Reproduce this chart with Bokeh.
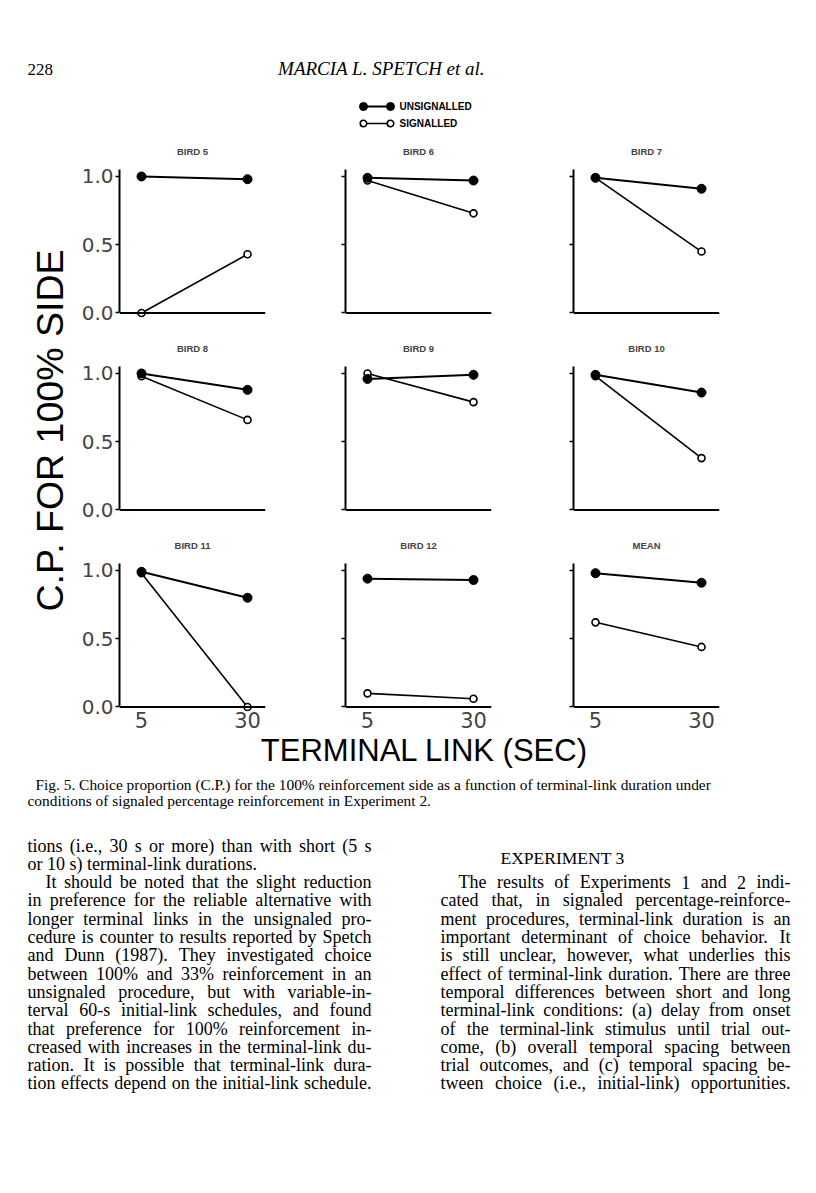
import math
from bokeh.plotting import figure
from bokeh.layouts import column, row
from bokeh.models import (Range1d, FixedTicker, Span, ColumnDataSource, NumeralTickFormatter,
                          CustomJSTickFormatter)
from bokeh.embed import file_html
from bokeh.resources import INLINE
from bokeh.core.properties import value

# ---------------- data ----------------
titles = ["BIRD 5", "BIRD 6", "BIRD 7", "BIRD 8", "BIRD 9", "BIRD 10", "BIRD 11", "BIRD 12", "MEAN"]
durations = [5, 30]
unsig_5 = [1.00, 0.99, 0.99, 1.00, 0.96, 0.99, 0.99, 0.94, 0.98]
unsig_30 = [0.98, 0.97, 0.91, 0.88, 0.99, 0.86, 0.80, 0.93, 0.91]
sig_5 = [0.00, 0.97, 0.99, 0.98, 1.00, 0.98, 0.98, 0.10, 0.62]
sig_30 = [0.43, 0.73, 0.45, 0.66, 0.79, 0.38, 0.00, 0.06, 0.44]
y_ticks = [0.0, 0.5, 1.0]
legend_labels = ["UNSIGNALLED", "SIGNALLED"]
y_title = "C.P. FOR 100% SIDE"
x_title = "TERMINAL LINK (SEC)"

page_number = "228"
running_head = "MARCIA L. SPETCH et al."
caption_lines = [
    "Fig. 5.   Choice proportion (C.P.) for the 100% reinforcement side as a function of terminal-link duration under",
    "conditions of signaled percentage reinforcement in Experiment 2.",
]
left_col_lines = [
    "tions (i.e., 30 s or more) than with short (5 s",
    "or 10 s) terminal-link durations.",
    "It should be noted that the slight reduction",
    "in preference for the reliable alternative with",
    "longer terminal links in the unsignaled pro-",
    "cedure is counter to results reported by Spetch",
    "and Dunn (1987). They investigated choice",
    "between 100% and 33% reinforcement in an",
    "unsignaled procedure, but with variable-in-",
    "terval 60-s initial-link schedules, and found",
    "that preference for 100% reinforcement in-",
    "creased with increases in the terminal-link du-",
    "ration. It is possible that terminal-link dura-",
    "tion effects depend on the initial-link schedule.",
]
left_indent = [0, 0, 1, 0, 0, 0, 0, 0, 0, 0, 0, 0, 0, 0]
left_para_end = [0, 1, 0, 0, 0, 0, 0, 0, 0, 0, 0, 0, 0, 0]
section_head = "EXPERIMENT 3"
right_col_lines = [
    "The results of Experiments 1 and 2 indi-",
    "cated that, in signaled percentage-reinforce-",
    "ment procedures, terminal-link duration is an",
    "important determinant of choice behavior. It",
    "is still unclear, however, what underlies this",
    "effect of terminal-link duration. There are three",
    "temporal differences between short and long",
    "terminal-link conditions: (a) delay from onset",
    "of the terminal-link stimulus until trial out-",
    "come, (b) overall temporal spacing between",
    "trial outcomes, and (c) temporal spacing be-",
    "tween choice (i.e., initial-link) opportunities.",
]
right_indent = [1] + [0] * 11
right_para_end = [0] * 12

# ---------------- layout constants ----------------
SANS = "Liberation Sans"
SERIF = "Liberation Serif"
PAGE_W, PAGE_H = 816, 1192
FRAME_W, FRAME_H, TOP_B = 146, 148, 38
LEFT_B = [41, 39, 40]
RIGHT_B = [41, 42, 41]
BOTTOM_B = [11, 11, 20]
HEADER_H = 131
YLAB_W = 78
BODY_PX = 18.0

# Times/Liberation Serif advance widths (1/1000 em), used only to justify body lines
_TW = {' ': 250, '!': 333, '%': 833, '(': 333, ')': 333, ',': 250, '-': 333, '.': 250, '/': 278,
       ':': 278, ';': 278, '?': 444}
_TW.update({d: 500 for d in "0123456789"})
_TW.update(dict(zip("ABCDEFGHIJKLMNOPQRSTUVWXYZ",
                    [722, 667, 667, 722, 611, 556, 722, 722, 333, 389, 722, 611, 889, 722, 722, 556,
                     722, 667, 556, 611, 722, 722, 944, 722, 722, 611])))
_TW.update(dict(zip("abcdefghijklmnopqrstuvwxyz",
                    [444, 500, 444, 500, 444, 333, 500, 500, 278, 278, 500, 278, 778, 500, 500, 500,
                     500, 333, 389, 278, 500, 500, 722, 500, 500, 444])))


def word_w(wd, px):
    return sum(_TW.get(ch, 500) for ch in wd) * px / 1000.0


def justify(lines, indents, para_end, x_left, x_right, y0, dy, px):
    xs, ys, ts = [], [], []
    for k, ln in enumerate(lines):
        words = ln.split(" ")
        start = x_left + 18 * indents[k]
        widths = [word_w(wd, px) for wd in words]
        nat_gap = 250 * px / 1000.0
        gap = nat_gap
        if not para_end[k] and len(words) > 1:
            g = (x_right - start - sum(widths)) / (len(words) - 1)
            if g > 0.6 * nat_gap:
                gap = g
        x = start
        for wd, wdw in zip(words, widths):
            xs.append(x)
            ys.append(y0 + k * dy)
            ts.append(wd)
            x += wdw + gap
    return ColumnDataSource(dict(x=xs, y=ys, t=ts))


def blank(w, h, x0, x1, y0, y1):
    p = figure(width=w, height=h, x_range=Range1d(x0, x1), y_range=Range1d(y0, y1),
               output_backend="svg", toolbar_location=None, min_border=0,
               x_axis_type=None, y_axis_type=None)
    p.outline_line_color = None
    p.grid.visible = False
    return p


# ---------------- header ----------------
hdr = blank(PAGE_W, HEADER_H, 0, PAGE_W, HEADER_H, 0)
hdr.text(x=[27], y=[69], text=[page_number], text_font=value(SERIF), text_font_size="17px",
         text_baseline="middle", text_align="left", text_color="black")
hdr.text(x=[381], y=[68], text=[running_head], text_font=value(SERIF), text_font_size="19px",
         text_font_style="italic", text_baseline="middle", text_align="center", text_color="black")
LEG_X0, LEG_X1, LEG_Y0, LEG_DY = 363, 390, 106, 17
for k, lab in enumerate(legend_labels):
    yy = LEG_Y0 + k * LEG_DY
    hdr.line([LEG_X0, LEG_X1], [yy, yy], line_width=2 if k == 0 else 1.6, color="black")
    if k == 0:
        hdr.scatter([LEG_X0, LEG_X1], [yy, yy], size=8, fill_color="black", line_color="black")
    else:
        hdr.scatter([LEG_X0, LEG_X1], [yy, yy], size=6.5, fill_color="white", line_color="black",
                    line_width=1.6)
    hdr.text(x=[LEG_X1 + 9], y=[yy], text=[lab], text_font=value(SANS), text_font_size="10px",
             text_font_style="bold", text_baseline="middle", text_align="left", text_color="black")

# ---------------- y title ----------------
grid_h = sum(TOP_B + FRAME_H + b for b in BOTTOM_B)
ylab = blank(YLAB_W, grid_h, 0, YLAB_W, HEADER_H + grid_h, HEADER_H)
ylab.text(x=[49], y=[430], text=[y_title], angle=math.pi / 2, text_font=value(SANS),
          text_font_size="37.5px", text_baseline="middle", text_align="center", text_color="black")

blank_fmt = CustomJSTickFormatter(code="return '';")


# ---------------- panels ----------------
def panel(i):
    r, c = divmod(i, 3)
    w = LEFT_B[c] + FRAME_W + RIGHT_B[c]
    h = TOP_B + FRAME_H + BOTTOM_B[r]
    p = figure(width=w, height=h, x_range=Range1d(-0.19, 34.24), y_range=Range1d(-0.033, 1.051),
               output_backend="svg", toolbar_location=None,
               x_axis_location="below" if r == 2 else None,
               min_border_left=LEFT_B[c], min_border_right=RIGHT_B[c],
               min_border_top=TOP_B, min_border_bottom=BOTTOM_B[r], title=titles[i])
    p.outline_line_color = None
    p.grid.visible = False
    p.title.align = "center"
    p.title.text_font = SANS
    p.title.text_font_size = "9.5px"
    p.title.text_font_style = "bold"
    p.title.standoff = 25

    ya = p.yaxis[0]
    ya.ticker = FixedTicker(ticks=y_ticks)
    ya.formatter = NumeralTickFormatter(format="0.0") if c == 0 else blank_fmt
    ya.bounds = (0, 1.051)
    ya.axis_line_width = 2
    ya.major_tick_out = 4
    ya.major_tick_in = 0
    ya.major_tick_line_width = 1.5
    ya.minor_tick_line_color = None
    ya.major_label_standoff = 2
    ya.major_label_text_font = "DejaVu Sans"
    ya.major_label_text_font_size = "20px"

    if r == 2:
        xa = p.xaxis[0]
        xa.ticker = FixedTicker(ticks=durations)
        xa.axis_line_color = None
        xa.major_tick_line_color = None
        xa.minor_tick_line_color = None
        xa.major_label_standoff = -6
        xa.major_label_text_font = "DejaVu Sans"
        xa.major_label_text_font_size = "21px"

    p.add_layout(Span(location=0, dimension="width", line_width=2, line_color="black"))

    p.line(durations, [sig_5[i], sig_30[i]], line_width=1.6, color="black")
    p.line(durations, [unsig_5[i], unsig_30[i]], line_width=2, color="black")
    p.scatter(durations, [sig_5[i], sig_30[i]], marker="circle", size=7, fill_color="white",
              line_color="black", line_width=1.6)
    p.scatter(durations, [unsig_5[i], unsig_30[i]], marker="circle", size=9, fill_color="black",
              line_color="black")
    return p


panels = [panel(i) for i in range(9)]
grid = column(*[row(*panels[r * 3:(r + 1) * 3]) for r in range(3)])

# ---------------- footer ----------------
FOOT_TOP = HEADER_H + grid_h
foot_h = PAGE_H - FOOT_TOP
foot = blank(PAGE_W, foot_h, 0, PAGE_W, FOOT_TOP + foot_h, FOOT_TOP)
foot.text(x=[424], y=[750], text=[x_title], text_font=value(SANS), text_font_size="31px",
          text_baseline="middle", text_align="center", text_color="black")
foot.text(x=[35, 27], y=[784, 800], text=caption_lines, text_font=value(SERIF),
          text_font_size="15.4px", text_baseline="middle", text_align="left", text_color="black")

LINE_DY = 18.3
lsrc = justify(left_col_lines, left_indent, left_para_end, 27, 371, 845, LINE_DY, BODY_PX)
foot.text(x="x", y="y", text="t", source=lsrc, text_font=value(SERIF), text_font_size=f"{BODY_PX}px",
          text_baseline="middle", text_align="left", text_color="black")
foot.text(x=[562], y=[857], text=[section_head], text_font=value(SERIF), text_font_size="17.5px",
          text_baseline="middle", text_align="center", text_color="black")
rsrc = justify(right_col_lines, right_indent, right_para_end, 440, 790, 845 + 2 * LINE_DY,
               LINE_DY, BODY_PX)
foot.text(x="x", y="y", text="t", source=rsrc, text_font=value(SERIF), text_font_size=f"{BODY_PX}px",
          text_baseline="middle", text_align="left", text_color="black")

layout = column(hdr, row(ylab, grid), foot)

with open("out.html", "w") as f:
    f.write(file_html(layout, INLINE))
